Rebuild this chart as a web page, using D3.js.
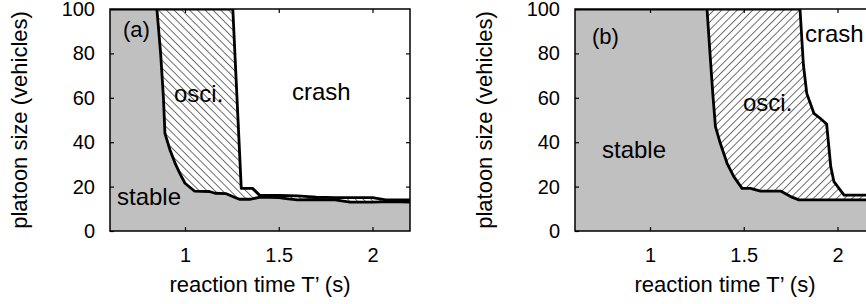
<!DOCTYPE html>
<meta charset="utf-8">
<style>
    body { margin: 0; background: #fff; }
    svg { font-family: "Liberation Sans", Arial, sans-serif; }
    .bound { fill: none; stroke: #000; stroke-width: 2.8px; stroke-linejoin: round; }
    .box { fill: none; stroke: #000; stroke-width: 1.5px; }
    .tick line { stroke: #000; stroke-width: 1.2px; }
</style>
<svg width="866" height="304"></svg>
<script src="https://d3js.org/d3.v7.min.js"></script>
<script>

    // tick values
    var xTicks = [1, 1.5, 2];
    var yTicks = [0, 20, 40, 60, 80, 100];

    // panel (a): boundaries [T', platoon size]
    var stableA = [[0.85, 100], [0.87, 80], [0.885, 60], [0.893, 44], [0.92, 36.5], [0.95, 30], [0.975, 25.5],
        [1.0, 21.5], [1.05, 18], [1.13, 17.8], [1.16, 17], [1.22, 16.8], [1.27, 15], [1.29, 14.3], [1.35, 14.3],
        [1.4, 15.3], [1.5, 15], [1.55, 14.5], [1.6, 14], [1.7, 14.2], [1.8, 14], [1.88, 13], [2.0, 13], [2.1, 13.2], [2.2, 13]];
    var crashA = [[1.255, 100], [1.30, 19.2], [1.36, 19.2], [1.40, 16], [1.5, 16], [1.6, 15.8], [1.7, 15.3],
        [1.8, 15], [1.9, 15], [2.0, 15], [2.07, 14], [2.2, 14]];

    // panel (b)
    var stableB = [[1.304, 100], [1.32, 80], [1.336, 60.5], [1.349, 47], [1.375, 39.5], [1.411, 30.5], [1.447, 24.5],
        [1.491, 19.2], [1.536, 19.2], [1.589, 18], [1.696, 18], [1.75, 15.5], [1.794, 14], [2.2, 14]];
    var crashB = [[1.8, 100], [1.818, 75], [1.836, 62], [1.874, 53], [1.907, 50.8], [1.942, 48.2], [1.964, 29],
        [1.981, 22.2], [2.035, 16.2], [2.2, 16.2]];

    var panels = [
        { id: "a", left: 110, stable: stableA, crash: crashA, hatch: -45,
          labels: [["(a)", 123, 37, 22], ["osci.", 174, 102, 24], ["crash", 292, 100, 24], ["stable", 117, 205, 24]] },
        { id: "b", left: 575, stable: stableB, crash: crashB, hatch: 45,
          labels: [["(b)", 592, 44, 22], ["osci.", 743, 111, 24], ["crash", 805, 42, 24], ["stable", 602, 158, 24]] }
    ];

    var svg = d3.select("svg"),
        mTop = 9, mBottom = 231, w = 300;

    var defs = svg.append("defs");

    panels.forEach(function (p) {
        var x = d3.scaleLinear().domain([0.6, 2.2]).range([p.left, p.left + w]),
            y = d3.scaleLinear().domain([0, 100]).range([mBottom, mTop]);

        defs.append("clipPath").attr("id", "clip" + p.id)
            .append("rect").attr("x", p.left).attr("y", mTop).attr("width", w).attr("height", mBottom - mTop);

        // hatching for the oscillation region
        var pat = defs.append("pattern").attr("id", "hatch" + p.id)
            .attr("patternUnits", "userSpaceOnUse").attr("width", 5.5).attr("height", 5.5)
            .attr("patternTransform", "rotate(" + p.hatch + ")");
        pat.append("rect").attr("width", 5.5).attr("height", 5.5).attr("fill", "#fff");
        pat.append("line").attr("x1", 0.5).attr("y1", 0).attr("x2", 0.5).attr("y2", 5.5)
            .attr("stroke", "#4a4a4a").attr("stroke-width", 0.8);

        var line = d3.line().x(d => x(d[0])).y(d => y(d[1]));
        var g = svg.append("g").attr("clip-path", "url(#clip" + p.id + ")");

        // crash region background (white)
        g.append("rect").attr("x", p.left).attr("y", mTop).attr("width", w).attr("height", mBottom - mTop).attr("fill", "#fff");

        // osci region: between stable and crash boundaries
        var osci = p.stable.concat(p.crash.slice().reverse());
        g.append("path").attr("d", line(osci) + "Z").attr("fill", "url(#hatch" + p.id + ")");

        // stable region
        var st = [[0.6, 0], [0.6, 100]].concat(p.stable, [[2.2, 0]]);
        g.append("path").attr("d", line(st) + "Z").attr("fill", "#c0c0c0");

        // boundaries
        g.append("path").attr("class", "bound").attr("d", line([[0.6, 100]].concat(p.stable)));
        g.append("path").attr("class", "bound").attr("d", line([[p.stable[0][0], 100]].concat(p.crash)));

        // axes, ticks pointing inward
        svg.append("g").attr("transform", "translate(0," + mBottom + ")")
            .call(d3.axisBottom(x).tickValues(xTicks).tickFormat(d3.format("")).tickSize(-4).tickPadding(17))
            .call(a => a.select(".domain").remove());
        svg.append("g").attr("transform", "translate(0," + mTop + ")")
            .call(d3.axisTop(x).tickValues(xTicks).tickFormat("").tickSize(-4))
            .call(a => a.select(".domain").remove());
        svg.append("g").attr("transform", "translate(" + p.left + ",0)")
            .call(d3.axisLeft(y).tickValues(yTicks).tickSize(-4).tickPadding(15))
            .call(a => a.select(".domain").remove());
        svg.append("g").attr("transform", "translate(" + (p.left + w) + ",0)")
            .call(d3.axisRight(y).tickValues(yTicks.slice(1, 5)).tickFormat("").tickSize(-4))
            .call(a => a.select(".domain").remove());
        svg.selectAll(".tick text").attr("font-size", 20).attr("font-family", null).attr("fill", "#000");

        svg.append("rect").attr("class", "box").attr("x", p.left).attr("y", mTop).attr("width", w).attr("height", mBottom - mTop);

        // axis titles
        svg.append("text").attr("x", p.left + w / 2).attr("y", 292).attr("text-anchor", "middle")
            .attr("font-size", 22).text("reaction time T’ (s)");
        svg.append("text").attr("transform", "translate(" + (p.left - 83) + "," + ((mTop + mBottom) / 2) + ") rotate(-90)")
            .attr("text-anchor", "middle").attr("font-size", 22).text("platoon size (vehicles)");

        // region labels
        p.labels.forEach(function (l) {
            svg.append("text").attr("x", l[1]).attr("y", l[2]).attr("font-size", l[3]).text(l[0]);
        });
    });

</script>
